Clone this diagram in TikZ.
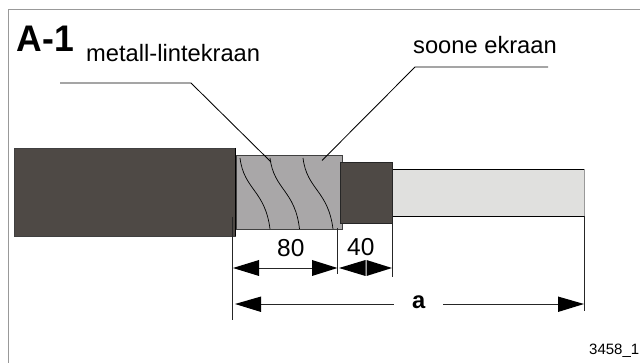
\documentclass[tikz,border=0pt]{standalone}
\usepackage{fontspec}
\setmainfont{Liberation Sans}
\definecolor{darkc}{HTML}{4E4945}
\definecolor{shield}{HTML}{A9A7A8}
\definecolor{lightc}{HTML}{E0E0DE}
\definecolor{framec}{HTML}{999999}
\tikzset{
 thin line/.style={draw=black,line width=0.85pt},
 extline/.style={draw=black!85,line width=0.8pt},
 wave/.style={draw=black,line width=0.7pt},
 dimarrow/.style={draw=black!85,line width=0.7pt},
 head/.style={fill=black,draw=none},
 lab/.style={inner sep=0pt,anchor=base west}
}
\begin{document}
\begin{tikzpicture}[x=1pt,y=-1pt]
\useasboundingbox (0,0) rectangle (640,363);
\draw[framec,line width=1pt] (8.5,363) -- (8.5,9.5) -- (640,9.5);
% bodies
\fill[lightc] (392,169.5) rectangle (584,216.5);
\draw[thin line] (392,169.5) -- (584,169.5);
\draw[thin line] (392,216.5) -- (584,216.5);
\draw[draw=framec,line width=0.8pt] (584,169.5) -- (584,216.5);
\draw[fill=darkc,draw=black!75,line width=0.9pt] (14,148) rectangle (235.5,236);
\draw[black,line width=1.1pt] (235.5,148) -- (235.5,236);
\draw[fill=shield,draw=black!75,line width=0.9pt] (236.5,155.5) rectangle (342,229.5);
\draw[fill=darkc,draw=black!85,line width=0.9pt] (340.5,162) rectangle (392.5,223);
% waves
\draw[wave] (240,158) .. controls (244,190) and (265,190) .. (270,229);
\draw[wave] (270,158) .. controls (274,190) and (295,190) .. (299.5,229);
\draw[wave] (303,158) .. controls (307,190) and (328,190) .. (333,229);
% leaders
\coordinate (m1) at (60,83);
\coordinate (m2) at (191,83);
\coordinate (m3) at (271,162);
\draw[thin line] (m1) -- (m2) -- (m3);
\coordinate (s1) at (548,67);
\coordinate (s0) at (415,67);
\coordinate (s3) at (322,160.5);
\draw[thin line] (s1) -- (s0) -- (s3);
% dimension lines
\draw[extline] (232.5,217) -- (232.5,320);
\draw[extline] (337.5,228) -- (337.5,274);
\draw[extline] (392.5,223) -- (392.5,277);
\draw[extline] (584,216) -- (584,311);
\draw[dimarrow] (259,268) -- (312,268);
\draw[dimarrow] (261,304) -- (394,304);
\draw[dimarrow] (443,304) -- (558,304);
\fill[head] (233,268) -- (259,260) -- (259,276) -- cycle;
\fill[head] (337.5,268) -- (312,260) -- (312,276) -- cycle;
\fill[head] (339,268) -- (365.5,260) -- (365.5,276) -- cycle;
\fill[head] (392,268) -- (366.5,260) -- (366.5,276) -- cycle;
\fill[head] (235,304) -- (261,296.5) -- (261,312) -- cycle;
\fill[head] (584,304) -- (558,296.5) -- (558,312) -- cycle;
% text
\node[lab,font=\fontsize{37}{37}\selectfont\bfseries,xscale=0.96] (title) at (16.5,52) {A-1};
\node[lab,font=\fontsize{23.7}{24}\selectfont] (metal) at (86,62) {metall-lintekraan};
\node[lab,font=\fontsize{23.7}{24}\selectfont] (soone) at (413,54) {soone ekraan};
\node[lab,font=\fontsize{24.5}{25}\selectfont] (n80) at (277,257) {80};
\node[lab,font=\fontsize{24.5}{25}\selectfont] (n40) at (347,256) {40};
\node[lab,font=\fontsize{23.7}{24}\selectfont\bfseries] (na) at (412,309) {a};
\node[lab,font=\fontsize{15}{15}\selectfont] (code) at (589,355) {3458\_1};
\end{tikzpicture}
\end{document}
